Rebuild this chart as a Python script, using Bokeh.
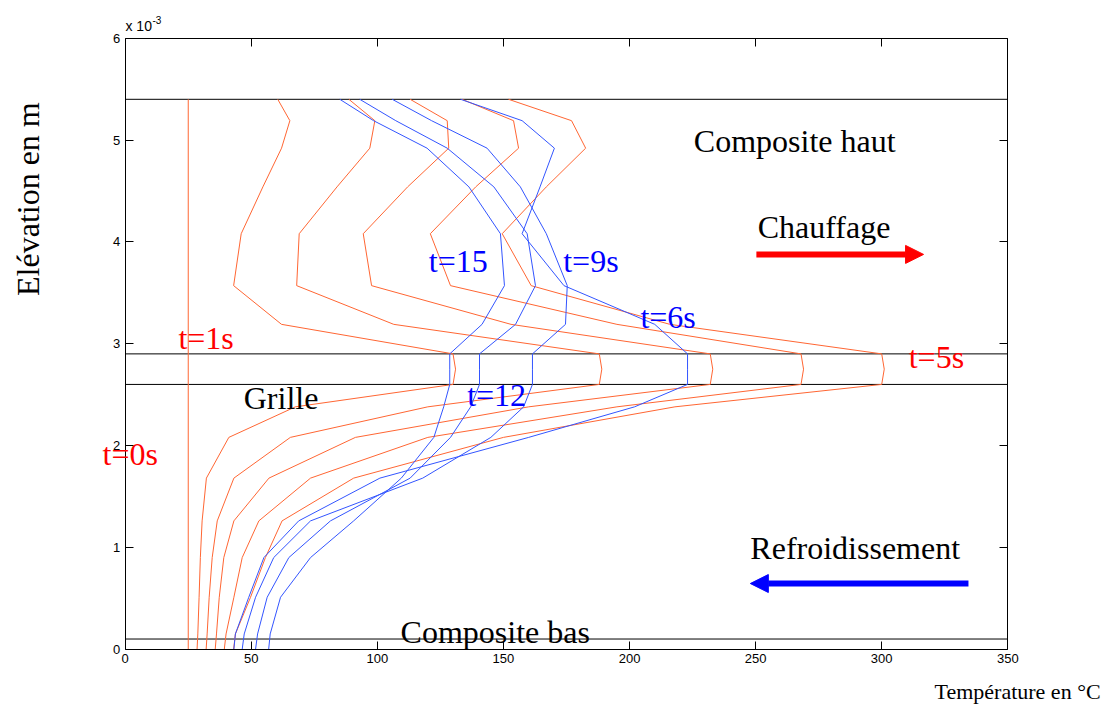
import math
from bokeh.plotting import figure
from bokeh.models import Label, Arrow, NormalHead, LinearAxis, FixedTicker, Range1d
from bokeh.embed import file_html
from bokeh.resources import INLINE

# ---------------- data (elevation in 1e-3 m, temperature in degC) ----------------
Y_NODES = [0.0, 0.15, 0.51, 0.90, 1.26, 1.68, 2.08, 2.38, 2.6, 2.75,
           2.9, 3.19, 3.57, 4.08, 4.54, 4.92, 5.19, 5.4]

Y_INIT = [0.0, 5.4]
T_0S = [25.0, 25.0]

# heating (orange)
T_1S = [28.5, 28.8, 29.3, 29.8, 30.5, 32.2, 41.1, 67.5, 130, 131,
        130, 62, 43, 46, 54.6, 62, 65.3, 60.5]
T_2S = [32.1, 32.5, 33.3, 34.5, 36.5, 43.1, 65.5, 120, 188, 189,
        188, 106.5, 68, 69, 84, 97, 99, 88.7]
T_3S = [35.7, 36.2, 37.3, 39.1, 43.1, 57, 91.3, 160, 232, 233,
        232, 153, 97.7, 94.4, 112, 128.3, 127.7, 113]
T_4S = [39.3, 40, 43.1, 46.4, 53, 73.5, 120, 195, 268, 269,
        268, 195, 129, 121, 139, 156, 154, 133.6]
T_5S = [43, 43.7, 49.7, 55.6, 62.2, 90.6, 150, 218, 300, 301,
        300, 216, 161, 149.5, 167, 182.6, 177, 152]

# cooling (blue)
T_6S = [43.1, 43.7, 49, 55, 68.8, 101, 160, 202, 223, 223,
        223, 210, 174, 157.4, 164.5, 170.2, 157.4, 133]
T_9S = [46.4, 47.2, 51.7, 58.9, 73.5, 118, 145, 158, 161.5, 161.5,
        161.5, 174.6, 175.3, 167, 156.7, 143.5, 121.5, 105.9]
T_12S = [51.7, 52.5, 56.3, 64.9, 81.4, 113, 129, 137, 140.5, 140.5,
         140.5, 154.8, 162.7, 159.4, 146.2, 127.7, 107.3, 93]
T_15S = [56.9, 57.5, 61.6, 73.5, 90.6, 109.5, 122.4, 126.3, 128.7, 128.7,
         128.7, 141.5, 150.4, 148.8, 136.3, 119.7, 98.5, 85.1]

HEATING = [T_1S, T_2S, T_3S, T_4S, T_5S]
COOLING = [T_6S, T_9S, T_12S, T_15S]

LAYER_BOUNDS = [0.1, 2.6, 2.9, 5.4]
X_LIMITS = [0, 350]
Y_LIMITS = [0, 6]
X_TICKS = [0, 50, 100, 150, 200, 250, 300, 350]
Y_TICKS = [0, 1, 2, 3, 4, 5, 6]

ORANGE = "#FF6633"
BLUE = "#3355FF"
SERIF = "Liberation Serif"
SANS = "Liberation Sans"

# ---------------- figure (frame covers the whole canvas, axes fixed inside) ----------------
W, H = 1110, 704
PX_LEFT, PX_RIGHT = 124.7, 1007.3      # pixel position of x = 0 and x = 350
PX_TOP, PX_BOTTOM = 37.7, 648.7        # pixel position of y = 6 and y = 0
sx = (PX_RIGHT - PX_LEFT) / (X_LIMITS[1] - X_LIMITS[0])
sy = (PX_BOTTOM - PX_TOP) / (Y_LIMITS[1] - Y_LIMITS[0])
x_range = Range1d(X_LIMITS[0] - PX_LEFT / sx, X_LIMITS[0] + (W - PX_LEFT) / sx)
y_range = Range1d(Y_LIMITS[0] - (H - PX_BOTTOM) / sy, Y_LIMITS[1] + PX_TOP / sy)

p = figure(width=W, height=H, min_border=0,
           x_range=x_range, y_range=y_range,
           output_backend="svg", toolbar_location=None,
           x_axis_location=None, y_axis_location=None)
p.grid.visible = False
p.outline_line_color = None
p.background_fill_color = "white"
p.border_fill_color = "white"


def make_axis(ticks, bounds, loc, show_labels):
    ax = LinearAxis(fixed_location=loc, bounds=tuple(bounds))
    ax.ticker = FixedTicker(ticks=ticks)
    ax.axis_line_color = "black"
    ax.major_tick_line_color = "black"
    ax.major_tick_in = 8
    ax.major_tick_out = 0
    ax.minor_tick_line_color = None
    ax.major_label_text_font = SANS
    ax.major_label_text_font_size = "13px"
    ax.major_label_text_color = "black" if show_labels else None
    ax.major_label_standoff = 5
    return ax


p.add_layout(make_axis(X_TICKS, X_LIMITS, Y_LIMITS[0], True), "below")
p.add_layout(make_axis(Y_TICKS, Y_LIMITS, X_LIMITS[0], True), "left")
p.add_layout(make_axis(X_TICKS, X_LIMITS, Y_LIMITS[1], False), "above")
p.add_layout(make_axis(Y_TICKS, Y_LIMITS, X_LIMITS[1], False), "right")

p.segment(x0=[X_LIMITS[0]] * len(LAYER_BOUNDS), x1=[X_LIMITS[1]] * len(LAYER_BOUNDS),
          y0=LAYER_BOUNDS, y1=LAYER_BOUNDS, line_color="black", line_width=1)

p.line(T_0S, Y_INIT, line_color=ORANGE, line_width=1)
for T in HEATING:
    p.line(T, Y_NODES, line_color=ORANGE, line_width=1)
for T in COOLING:
    p.line(T, Y_NODES, line_color=BLUE, line_width=1)

# ---------------- annotations ----------------
TEXTS = [
    ("Composite haut", 225.5, 4.99, "black"),
    ("Chauffage", 250.8, 4.15, "black"),
    ("Refroidissement", 247.9, 0.99, "black"),
    ("Composite bas", 109.2, 0.17, "black"),
    ("Grille", 47.0, 2.47, "black"),
    ("t=1s", 21.1, 3.06, "red"),
    ("t=0s", -9.0, 1.92, "red"),
    ("t=5s", 310.7, 2.87, "red"),
    ("t=15", 120.4, 3.81, "blue"),
    ("t=9s", 173.7, 3.81, "blue"),
    ("t=6s", 204.3, 3.26, "blue"),
    ("t=12", 135.6, 2.50, "blue"),
]
for txt, x, y, c in TEXTS:
    p.add_layout(Label(x=x, y=y, text=txt, text_font=SERIF, text_font_size="32px",
                       text_color=c, text_baseline="alphabetic", text_align="left"))

p.add_layout(Label(x=386.8, y=-0.42, text="Température en °C", text_font=SERIF,
                   text_font_size="22px", text_color="black",
                   text_align="right", text_baseline="alphabetic"))
p.add_layout(Label(x=-38.7, y=4.42, text="Elévation en m", text_font=SERIF,
                   text_font_size="32px", text_color="black", angle=math.pi / 2,
                   text_align="center", text_baseline="alphabetic"))
p.add_layout(Label(x=0.1, y=6.115, text="x 10", text_font=SANS,
                   text_font_size="14px", text_color="black", text_baseline="alphabetic"))
p.add_layout(Label(x=10.8, y=6.175, text="-3", text_font=SANS,
                   text_font_size="10px", text_color="black", text_baseline="alphabetic"))

ARROWS = [((250.3, 3.877), (316.6, 3.877), "red"),
          ((334.4, 0.645), (247.9, 0.645), "blue")]
for (xs, ys), (xe, ye), c in ARROWS:
    p.add_layout(Arrow(end=NormalHead(size=18, fill_color=c, line_color=c),
                       x_start=xs, y_start=ys, x_end=xe, y_end=ye,
                       line_color=c, line_width=6))

open("out.html", "w").write(file_html(p, INLINE))
